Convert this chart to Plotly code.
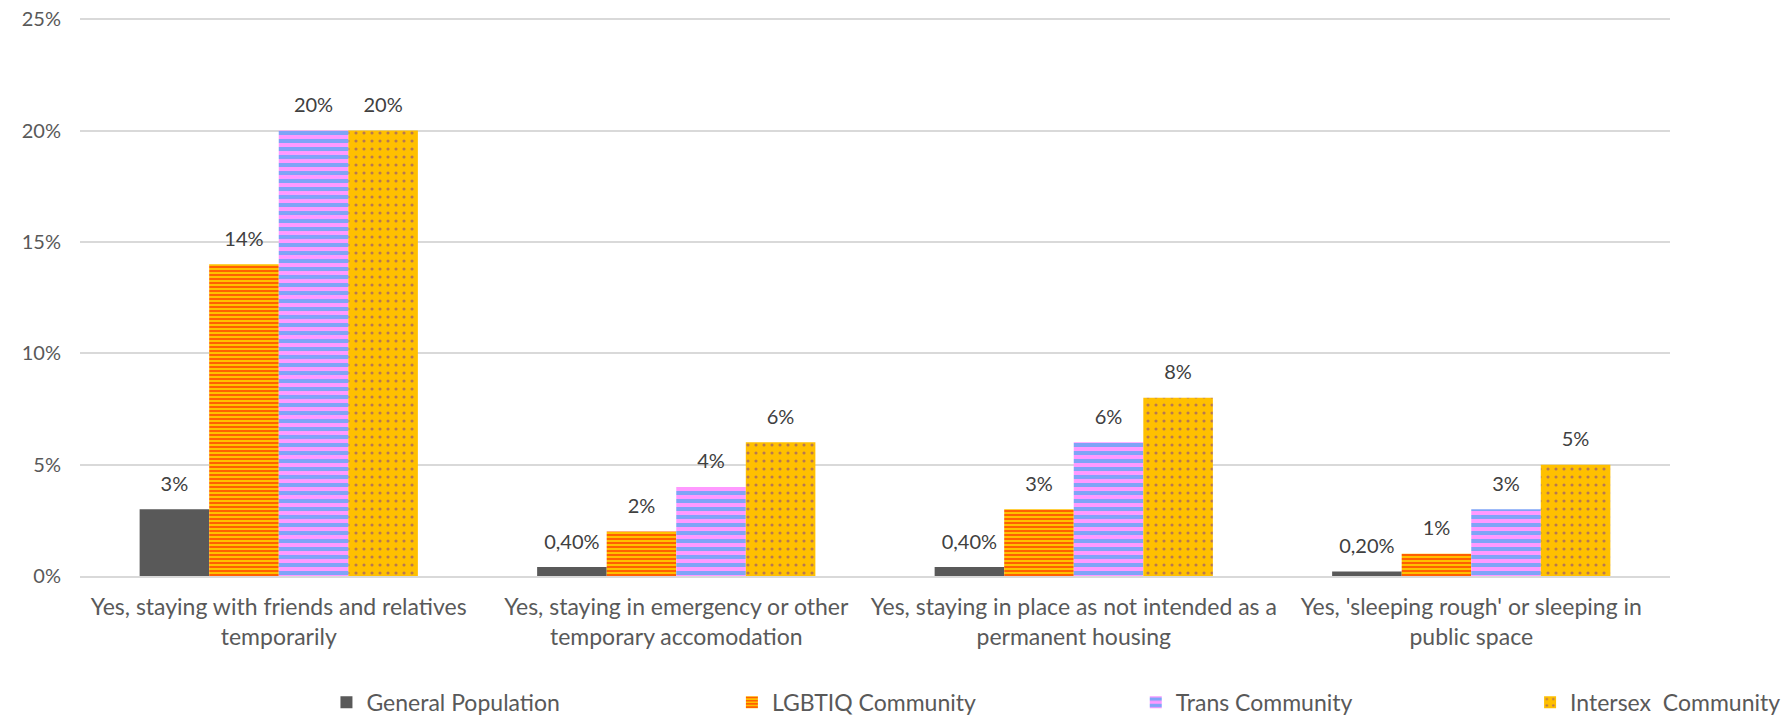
import plotly.graph_objects as go

categories = [
    "Yes, staying with friends and relatives<br>temporarily",
    "Yes, staying in emergency or other<br>temporary accomodation",
    "Yes, staying in place as not intended as a<br>permanent housing",
    "Yes, 'sleeping rough' or sleeping in<br>public space",
]
series_names = ["General Population", "LGBTIQ Community", "Trans Community", "Intersex\u00a0 Community"]
general = [3, 0.4, 0.4, 0.2]
lgbtiq = [14, 2, 3, 1]
trans = [20, 4, 6, 3]
intersex = [20, 6, 8, 5]
general_labels = ["3%", "0,40%", "0,40%", "0,20%"]
lgbtiq_labels = ["14%", "2%", "3%", "1%"]
trans_labels = ["20%", "4%", "6%", "3%"]
intersex_labels = ["20%", "6%", "8%", "5%"]
y_ticks = [0, 5, 10, 15, 20, 25]
y_tick_text = ["0%", "5%", "10%", "15%", "20%", "25%"]
legend_x = [0.155, 0.410, 0.664, 0.912]

FONT = "Lato"
TXT = "#595959"
LBL = "#404040"

fig = go.Figure()
styles = [
    dict(color="#595959"),
    dict(color="#FFC000", pattern=dict(shape="-", fgcolor="#FF0000", bgcolor="#FFC000", size=4, solidity=0.5, fillmode="overlay")),
    dict(color="#FF99FF", pattern=dict(shape="-", fgcolor="#00B0F0", bgcolor="#FF99FF", size=8, solidity=0.5, fillmode="overlay")),
    dict(color="#FFC000", pattern=dict(shape=".", fgcolor="#7030A0", bgcolor="#FFC000", size=8, solidity=0.12, fillmode="overlay")),
]
legend_ids = ["legend", "legend2", "legend3", "legend4"]
all_vals = [general, lgbtiq, trans, intersex]
all_labels = [general_labels, lgbtiq_labels, trans_labels, intersex_labels]
for i, (name, vals, st, lid) in enumerate(zip(series_names, all_vals, styles, legend_ids)):
    fig.add_trace(go.Bar(
        name=name, x=categories, y=vals, offsetgroup=str(i),
        marker=dict(line=dict(width=0), **st), legend=lid,
    ))
for i, (vals, labels) in enumerate(zip(all_vals, all_labels)):
    fig.add_trace(go.Scatter(
        x=categories, y=vals, text=labels, mode="markers+text", textposition="top center",
        offsetgroup=str(i), showlegend=False, hoverinfo="skip", cliponaxis=False,
        marker=dict(size=20, opacity=0),
        textfont=dict(family=FONT, size=20, color=LBL),
    ))

leg_common = dict(orientation="h", xanchor="left", y=-0.226, yanchor="middle",
                  font=dict(family=FONT, size=23, color=TXT), bgcolor="rgba(0,0,0,0)")
layout_legends = {lid: dict(x=lx, **leg_common) for lid, lx in zip(legend_ids, legend_x)}

fig.update_layout(
    width=1781, height=717,
    paper_bgcolor="white", plot_bgcolor="white",
    margin=dict(l=80, r=111, t=17, b=141, autoexpand=False),
    barmode="group", bargap=0.3, bargroupgap=0,
    scattermode="group", scattergap=0.3,
    font=dict(family=FONT, size=20, color=TXT),
    showlegend=True,
    xaxis=dict(showgrid=False, showline=True, linecolor="#D9D9D9", linewidth=1.5,
               tickfont=dict(family=FONT, size=23, color=TXT), ticks="", automargin=False,
               ticklabelstandoff=10),
    yaxis=dict(range=[0, 25.1], tickvals=y_ticks, ticktext=y_tick_text, showgrid=True,
               gridcolor="#D9D9D9", gridwidth=1.5, zeroline=False, showline=False,
               ticklabeloverflow="allow", ticklabelstandoff=18,
               tickfont=dict(family=FONT, size=20, color=TXT), ticks="", automargin=False),
    **layout_legends,
)
fig.write_html("out.html", config={"displayModeBar": False},
               post_script="document.body.style.margin='0';")
